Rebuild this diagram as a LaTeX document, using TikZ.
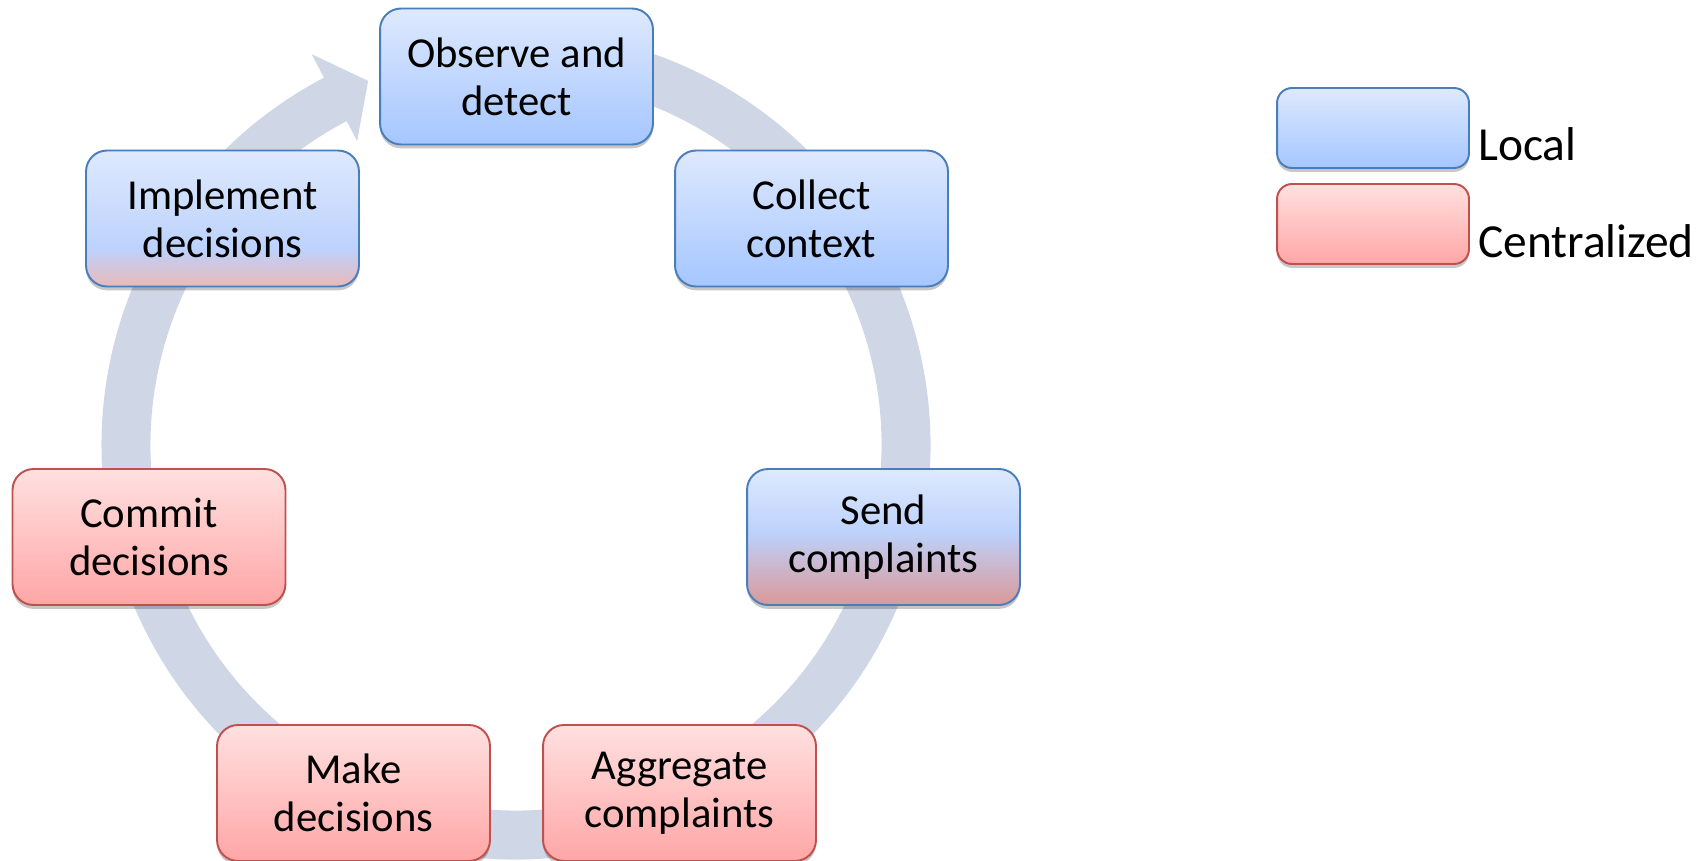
\documentclass[tikz,border=0pt]{standalone}
\usepackage{fontspec}
\setmainfont{Carlito}
\usetikzlibrary{shadows,calc}

% palette
\definecolor{ringfill}{RGB}{207,215,230}
\definecolor{locbord}{RGB}{74,126,187}
\definecolor{cenbord}{RGB}{192,80,77}
\definecolor{loctop}{RGB}{222,233,253}
\definecolor{locbot}{RGB}{165,198,255}
\definecolor{locmid}{RGB}{189,210,252}
\definecolor{centop}{RGB}{255,224,224}
\definecolor{cenbot}{RGB}{255,166,166}
\definecolor{mixbotA}{RGB}{232,185,186}
\definecolor{mixbotB}{RGB}{218,153,153}

% vertical fills (25bp = bottom of the shape, 75bp = top)
\pgfdeclareverticalshading{localshade}{100bp}{color(0bp)=(locbot); color(25bp)=(locbot); color(75bp)=(loctop); color(100bp)=(loctop)}
\pgfdeclareverticalshading{centralshade}{100bp}{color(0bp)=(cenbot); color(25bp)=(cenbot); color(75bp)=(centop); color(100bp)=(centop)}
\pgfdeclareverticalshading{implshade}{100bp}{color(0bp)=(mixbotA); color(25bp)=(mixbotA); color(39bp)=(locmid); color(75bp)=(loctop); color(100bp)=(loctop)}
\pgfdeclareverticalshading{sendshade}{100bp}{color(0bp)=(mixbotB); color(25bp)=(mixbotB); color(52bp)=(locmid); color(75bp)=(loctop); color(100bp)=(loctop)}

\tikzset{
  boxshadow/.style={drop shadow={shadow xshift=0pt, shadow yshift=-2.2pt, opacity=0.22, fill=black}},
  stage/.style={rectangle, rounded corners=0.42cm, minimum width=5.46cm, minimum height=2.72cm,
    inner sep=0pt, align=center, line width=1.1pt, boxshadow,
    font=\fontsize{24.3}{27.2}\selectfont},
  legbox/.style={rectangle, rounded corners=0.3cm, minimum width=3.84cm, minimum height=1.6cm,
    inner sep=0pt, line width=1.1pt, boxshadow},
  legtext/.style={anchor=base west, inner sep=0pt, font=\fontsize{27}{30}\selectfont},
  localfill/.style={draw=locbord, shade, shading=localshade},
  centralfill/.style={draw=cenbord, shade, shading=centralshade},
  implfill/.style={draw=locbord, shade, shading=implshade},
  sendfill/.style={draw=locbord, shade, shading=sendshade},
}

\begin{document}
\begin{tikzpicture}[x=0.02cm, y=0.02cm]
  \useasboundingbox (0,0) rectangle (1702,860);

  % circular arrow behind the stages
  \coordinate (ctr) at (516,415);
  \fill[ringfill]
    ($(ctr)+(100:414.5)$) arc[start angle=100, end angle=-242.4, radius=414.5]
    -- ($(ctr)+(117.6:441)$) -- ($(ctr)+(112.1:393)$) -- ($(ctr)+(117.6:343)$)
    -- ($(ctr)+(117.6:365.5)$) arc[start angle=-242.4, end angle=100, radius=365.5]
    -- cycle;

  % stages of the cycle
  \node[stage, localfill]   (obs) at (516.5,783.5) {Observe and\\detect};
  \node[stage, localfill]   (col) at (811.5,641.5) {Collect\\context};
  \node[stage, sendfill]    (snd) at (883.5,323)   {Send\\complaints};
  \node[stage, centralfill] (agg) at (679.5,67)    {Aggregate\\complaints};
  \node[stage, centralfill] (mak) at (353.5,67)    {Make\\decisions};
  \node[stage, centralfill] (com) at (149,323)     {Commit\\decisions};
  \node[stage, implfill]    (imp) at (222.5,641.5) {Implement\\decisions};

  % legend
  \node[legbox, localfill]   (lloc) at (1373,732) {};
  \node[legbox, centralfill] (lcen) at (1373,636) {};
  \node[legtext] (tloc) at (1478,699) {Local};
  \node[legtext] (tcen) at (1478,603) {Centralized};
\end{tikzpicture}
\end{document}
